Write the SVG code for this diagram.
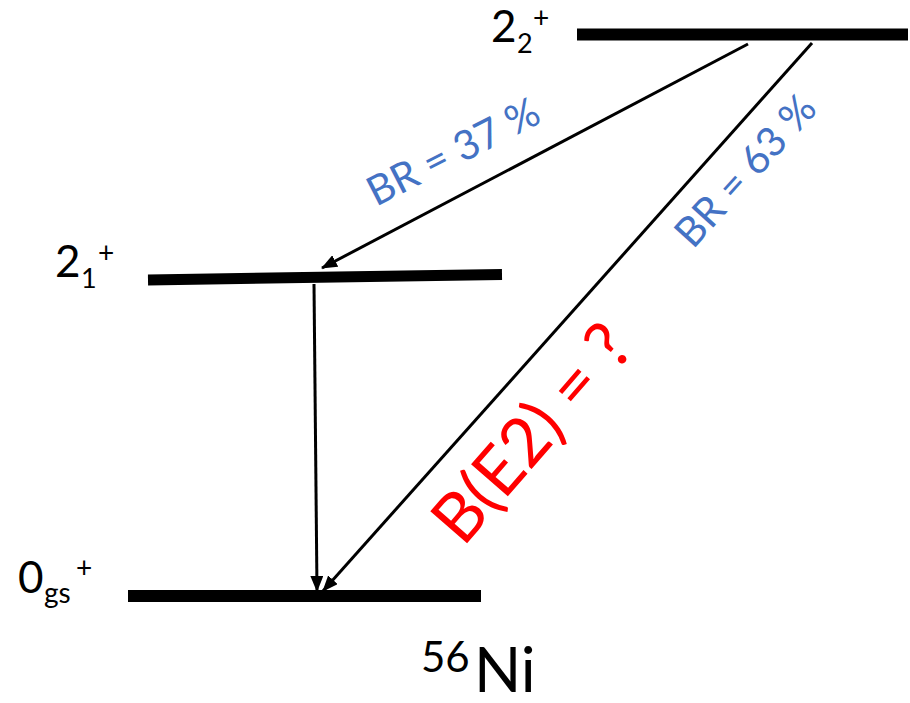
<svg xmlns="http://www.w3.org/2000/svg" width="910" height="703" viewBox="0 0 910 703">
<defs>
<style>
text{font-family:Lato,"Open Sans","Liberation Sans",sans-serif;}
.lvl{stroke:#000;stroke-width:12;fill:none}
.lab{fill:#000}
.conn line{stroke:#000;stroke-width:3;marker-end:url(#ah)}
.br{fill:#4472C4;font-size:41px}
.be{fill:#FF0000;font-size:68px}
</style>
<marker id="ah" markerUnits="userSpaceOnUse" markerWidth="16" markerHeight="13" refX="15" refY="6.5" orient="auto" viewBox="0 0 16 13">
<path d="M0,0 L16,6.5 L0,13 z" fill="#000"/>
</marker>
</defs>
<rect width="910" height="703" fill="#fff"/>
<g id="level-2-2">
<line class="lvl" x1="577" y1="34.5" x2="908" y2="34.5"/>
<text class="lab" x="491" y="42" font-size="44">2</text>
<text class="lab" x="517" y="53" font-size="27">2</text>
<text class="lab" x="533" y="28" font-size="28">+</text>
</g>
<g id="level-2-1">
<line class="lvl" x1="148" y1="280" x2="502" y2="274.5" style="stroke-width:11"/>
<text class="lab" x="55" y="277" font-size="44">2</text>
<text class="lab" x="81" y="288" font-size="27">1</text>
<text class="lab" x="98" y="263" font-size="28">+</text>
</g>
<g id="level-0gs">
<line class="lvl" x1="128" y1="596" x2="481" y2="596"/>
<text class="lab" x="18" y="593" font-size="44">0</text>
<text class="lab" x="44" y="603" font-size="28">gs</text>
<text class="lab" x="76" y="578" font-size="28">+</text>
</g>
<g id="nucleus">
<text class="lab" x="421" y="672" font-size="42">56</text>
<text class="lab" x="474" y="692" font-size="62">Ni</text>
</g>
<g id="connectors" class="conn">
<line x1="748" y1="44" x2="322" y2="268"/>
<line x1="812" y1="43" x2="323" y2="591"/>
<line x1="314" y1="284" x2="317" y2="591"/>
</g>
<g id="labels">
<text class="br" transform="translate(376,207) rotate(-27)">BR = 37 %</text>
<text class="br" transform="translate(693,250) rotate(-48)">BR = 63 %</text>
<text class="be" transform="translate(463,548) rotate(-49)">B(E2) = ?</text>
</g>
</svg>
